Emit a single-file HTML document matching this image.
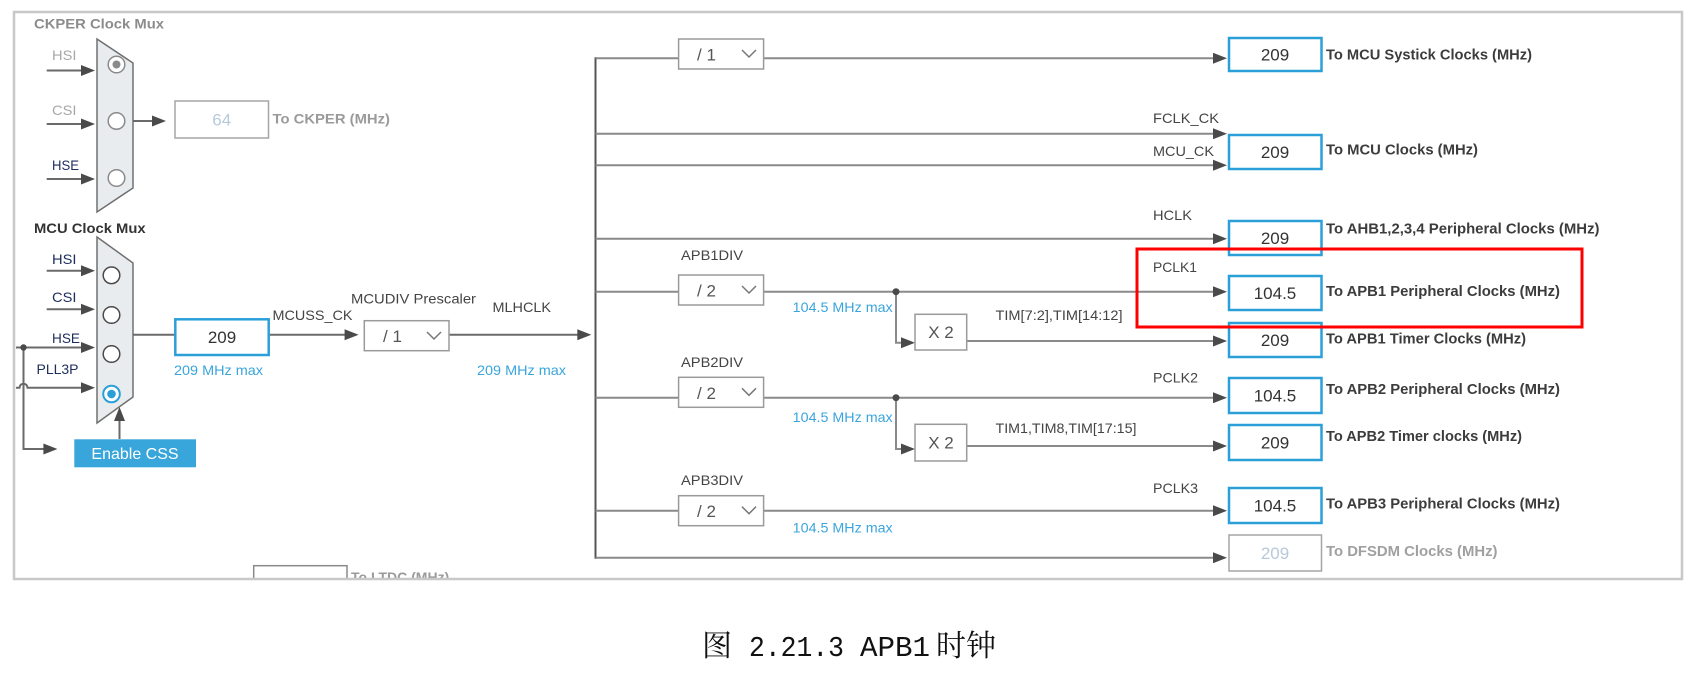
<!DOCTYPE html>
<html>
<head>
<meta charset="utf-8">
<style>
  html,body{margin:0;padding:0;background:#fff;}
  body{width:1692px;height:675px;overflow:hidden;}
  svg{display:block;}
</style>
</head>
<body>
<svg width="1692" height="675" viewBox="0 0 1692 675" xmlns="http://www.w3.org/2000/svg" font-family="'Liberation Sans', Arial, sans-serif">
  <defs>
    <clipPath id="c"><rect x="15" y="13" width="1666" height="565"/></clipPath>
  </defs>
  <rect x="0" y="0" width="1692" height="675" fill="#ffffff"/>

  <g clip-path="url(#c)">
    <!-- ============ CKPER MUX ============ -->
    <text x="34" y="28.5" font-size="14" font-weight="bold" fill="#8c8c8c" textLength="130" lengthAdjust="spacingAndGlyphs">CKPER Clock Mux</text>
    <polygon points="97,39 133,63 133,188 97,212" fill="#e9ecef" stroke="#707070" stroke-width="1.5"/>
    <circle cx="116.5" cy="64.5" r="8.3" fill="#fff" stroke="#8a8a8a" stroke-width="1.5"/>
    <circle cx="116.5" cy="64.5" r="4" fill="#8a8a8a"/>
    <circle cx="116.5" cy="121" r="8.3" fill="#fff" stroke="#8a8a8a" stroke-width="1.5"/>
    <circle cx="116.5" cy="178" r="8.3" fill="#fff" stroke="#8a8a8a" stroke-width="1.5"/>

    <g stroke="#6a6a6a" stroke-width="2" fill="none">
      <path d="M46.7 70.5 H83"/>
      <path d="M46.7 124 H83"/>
      <path d="M46.7 179 H83"/>
      <path d="M133 121 H154"/>
    </g>
    <g fill="#4a4a4a">
      <polygon points="81,65 95,70.5 81,76"/>
      <polygon points="81,118.5 95,124 81,129.5"/>
      <polygon points="81,173.5 95,179 81,184.5"/>
      <polygon points="152,115.5 166,121 152,126.5"/>
    </g>
    <text x="52" y="60" font-size="14" fill="#a8a8a8" textLength="24.5" lengthAdjust="spacingAndGlyphs">HSI</text>
    <text x="52" y="115" font-size="14" fill="#a8a8a8" textLength="24.5" lengthAdjust="spacingAndGlyphs">CSI</text>
    <text x="52" y="170" font-size="14" fill="#1d2d5c" textLength="27" lengthAdjust="spacingAndGlyphs">HSE</text>

    <rect x="175" y="101" width="93.5" height="37" fill="#fff" stroke="#a5a5a5" stroke-width="1.5"/>
    <text x="221.7" y="125.5" font-size="17" fill="#b7c9dc" text-anchor="middle">64</text>
    <text x="272.5" y="123.5" font-size="14" font-weight="bold" fill="#9a9a9a" textLength="117.5" lengthAdjust="spacingAndGlyphs">To CKPER (MHz)</text>

    <!-- ============ MCU MUX ============ -->
    <text x="34" y="233" font-size="14" font-weight="bold" fill="#333333" textLength="111.6" lengthAdjust="spacingAndGlyphs">MCU Clock Mux</text>
    <polygon points="97,237 133,263 133,397 97,423" fill="#e9ecef" stroke="#707070" stroke-width="1.5"/>
    <circle cx="111.5" cy="275.3" r="8.3" fill="#fff" stroke="#4a4a4a" stroke-width="1.5"/>
    <circle cx="111.5" cy="315" r="8.3" fill="#fff" stroke="#4a4a4a" stroke-width="1.5"/>
    <circle cx="111.5" cy="354" r="8.3" fill="#fff" stroke="#4a4a4a" stroke-width="1.5"/>
    <circle cx="111.5" cy="394" r="8.3" fill="#fff" stroke="#2b9fd8" stroke-width="2"/>
    <circle cx="111.5" cy="394" r="4.3" fill="#2b9fd8"/>

    <g stroke="#6a6a6a" stroke-width="2" fill="none">
      <path d="M46.7 270.7 H83"/>
      <path d="M46.7 309.3 H83"/>
      <path d="M16 347.5 H83"/>
      <path d="M16 387.7 H19.5 A4 4 0 0 1 27.5 387.7 H83"/>
      <path d="M23.5 347.5 V449 H45"/>
      <path d="M119.5 439 V419"/>
      <path d="M133 334.7 H175.3"/>
      <path d="M268.7 334.7 H346"/>
      <path d="M449 334.7 H579"/>
    </g>
    <circle cx="23.5" cy="347.5" r="3.2" fill="#4a4a4a"/>
    <g fill="#4a4a4a">
      <polygon points="81,265.2 95,270.7 81,276.2"/>
      <polygon points="81,303.8 95,309.3 81,314.8"/>
      <polygon points="81,342 95,347.5 81,353"/>
      <polygon points="81,382.2 95,387.7 81,393.2"/>
      <polygon points="43.4,443.5 57.4,449 43.4,454.5"/>
      <polygon points="114,421 119.5,407 125,421"/>
      <polygon points="344.6,329.2 358.6,334.7 344.6,340.2"/>
      <polygon points="577.3,329.2 591.3,334.7 577.3,340.2"/>
    </g>
    <text x="52" y="264" font-size="14" fill="#1d2d5c" textLength="24.5" lengthAdjust="spacingAndGlyphs">HSI</text>
    <text x="52" y="302" font-size="14" fill="#1d2d5c" textLength="24.5" lengthAdjust="spacingAndGlyphs">CSI</text>
    <text x="52" y="343" font-size="14" fill="#1d2d5c" textLength="28" lengthAdjust="spacingAndGlyphs">HSE</text>
    <text x="36.5" y="374" font-size="14" fill="#1d2d5c" textLength="42" lengthAdjust="spacingAndGlyphs">PLL3P</text>

    <rect x="74.3" y="439.3" width="121.7" height="28" fill="#38a6db"/>
    <text x="135" y="459" font-size="16" fill="#ffffff" text-anchor="middle">Enable CSS</text>

    <rect x="175.3" y="319.3" width="93.4" height="35.7" fill="#fff" stroke="#2b9fd8" stroke-width="2.5"/>
    <text x="222" y="343" font-size="17" fill="#333" text-anchor="middle">209</text>
    <text x="174" y="375" font-size="14" fill="#3aa5dc" textLength="89" lengthAdjust="spacingAndGlyphs">209 MHz max</text>
    <text x="272.5" y="320" font-size="14" fill="#444" textLength="80" lengthAdjust="spacingAndGlyphs">MCUSS_CK</text>
    <text x="351" y="303.5" font-size="14" fill="#444" textLength="125" lengthAdjust="spacingAndGlyphs">MCUDIV Prescaler</text>

    <rect x="364.3" y="320.7" width="84.7" height="30" fill="#fff" stroke="#9a9a9a" stroke-width="1.5"/>
    <text x="383" y="342" font-size="17" fill="#555">/ 1</text>
    <polyline points="427,332 434,339 441,332" fill="none" stroke="#777" stroke-width="1.5"/>

    <text x="492.5" y="312" font-size="14" fill="#444" textLength="58.5" lengthAdjust="spacingAndGlyphs">MLHCLK</text>
    <text x="477" y="375" font-size="14" fill="#3aa5dc" textLength="89" lengthAdjust="spacingAndGlyphs">209 MHz max</text>

    <!-- LTDC clipped -->
    <rect x="253.7" y="565.7" width="93.3" height="40" fill="#fff" stroke="#8a8a8a" stroke-width="1.5"/>
    <text x="351" y="582" font-size="14" font-weight="bold" fill="#9a9a9a">To LTDC (MHz)</text>

    <!-- ============ BUS & BRANCHES ============ -->
    <path d="M595.5 57.3 V558.7" stroke="#555" stroke-width="2" fill="none"/>
    <g stroke="#8a8a8a" stroke-width="2" fill="none">
      <path d="M595.5 58.3 H678.6"/>
      <path d="M763.6 58.3 H1215"/>
      <path d="M595.5 133.7 H1215"/>
      <path d="M595.5 165.3 H1215"/>
      <path d="M595.5 238.7 H1215"/>
      <path d="M595.5 291.7 H678.6"/>
      <path d="M763.6 291.7 H1215"/>
      <path d="M896 291.7 V342.7 H903"/>
      <path d="M966.7 341 H1215"/>
      <path d="M595.5 397.7 H678.6"/>
      <path d="M763.6 397.7 H1215"/>
      <path d="M896 397.7 V449 H903"/>
      <path d="M966.7 446 H1215"/>
      <path d="M595.5 510.7 H678.6"/>
      <path d="M763.6 510.7 H1215"/>
      <path d="M595.5 557.7 H1215"/>
    </g>
    <circle cx="896" cy="291.7" r="3.5" fill="#4a4a4a"/>
    <circle cx="896" cy="397.7" r="3.5" fill="#4a4a4a"/>
    <g fill="#4a4a4a">
      <polygon points="1213,52.8 1227,58.3 1213,63.8"/>
      <polygon points="1213,128.2 1227,133.7 1213,139.2"/>
      <polygon points="1213,159.8 1227,165.3 1213,170.8"/>
      <polygon points="1213,233.2 1227,238.7 1213,244.2"/>
      <polygon points="1213,286.2 1227,291.7 1213,297.2"/>
      <polygon points="1213,335.5 1227,341 1213,346.5"/>
      <polygon points="1213,392.2 1227,397.7 1213,403.2"/>
      <polygon points="1213,440.5 1227,446 1213,451.5"/>
      <polygon points="1213,505.2 1227,510.7 1213,516.2"/>
      <polygon points="1213,552.2 1227,557.7 1213,563.2"/>
      <polygon points="901,337.2 915,342.7 901,348.2"/>
      <polygon points="901,443.5 915,449 901,454.5"/>
    </g>

    <!-- dropdowns -->
    <g>
      <rect x="678.6" y="39" width="85" height="30" fill="#fff" stroke="#9a9a9a" stroke-width="1.5"/>
      <text x="697" y="60.5" font-size="17" fill="#555">/ 1</text>
      <polyline points="742,50 749,57 756,50" fill="none" stroke="#777" stroke-width="1.5"/>

      <rect x="678.6" y="275" width="85" height="30" fill="#fff" stroke="#9a9a9a" stroke-width="1.5"/>
      <text x="697" y="296.5" font-size="17" fill="#555">/ 2</text>
      <polyline points="742,286 749,293 756,286" fill="none" stroke="#777" stroke-width="1.5"/>

      <rect x="678.6" y="377.3" width="85" height="30" fill="#fff" stroke="#9a9a9a" stroke-width="1.5"/>
      <text x="697" y="398.8" font-size="17" fill="#555">/ 2</text>
      <polyline points="742,388.3 749,395.3 756,388.3" fill="none" stroke="#777" stroke-width="1.5"/>

      <rect x="678.6" y="495.7" width="85" height="30" fill="#fff" stroke="#9a9a9a" stroke-width="1.5"/>
      <text x="697" y="517.2" font-size="17" fill="#555">/ 2</text>
      <polyline points="742,506.7 749,513.7 756,506.7" fill="none" stroke="#777" stroke-width="1.5"/>
    </g>

    <text x="681" y="260" font-size="14" fill="#444" textLength="62" lengthAdjust="spacingAndGlyphs">APB1DIV</text>
    <text x="681" y="367" font-size="14" fill="#444" textLength="62" lengthAdjust="spacingAndGlyphs">APB2DIV</text>
    <text x="681" y="485" font-size="14" fill="#444" textLength="62" lengthAdjust="spacingAndGlyphs">APB3DIV</text>
    <text x="792.7" y="312" font-size="14" fill="#3aa5dc" textLength="100" lengthAdjust="spacingAndGlyphs">104.5 MHz max</text>
    <text x="792.7" y="422" font-size="14" fill="#3aa5dc" textLength="100" lengthAdjust="spacingAndGlyphs">104.5 MHz max</text>
    <text x="792.7" y="532.5" font-size="14" fill="#3aa5dc" textLength="100" lengthAdjust="spacingAndGlyphs">104.5 MHz max</text>

    <!-- X2 boxes -->
    <rect x="915" y="314.3" width="51.7" height="35.7" fill="#fff" stroke="#9a9a9a" stroke-width="1.5"/>
    <text x="941" y="338" font-size="17" fill="#555" text-anchor="middle">X 2</text>
    <rect x="915" y="424.3" width="51.7" height="36.7" fill="#fff" stroke="#9a9a9a" stroke-width="1.5"/>
    <text x="941" y="448.5" font-size="17" fill="#555" text-anchor="middle">X 2</text>
    <text x="995.5" y="320" font-size="14" fill="#444" textLength="127" lengthAdjust="spacingAndGlyphs">TIM[7:2],TIM[14:12]</text>
    <text x="995.5" y="433" font-size="14" fill="#444" textLength="141" lengthAdjust="spacingAndGlyphs">TIM1,TIM8,TIM[17:15]</text>

    <!-- signal labels -->
    <text x="1153" y="123" font-size="14" fill="#444" textLength="66" lengthAdjust="spacingAndGlyphs">FCLK_CK</text>
    <text x="1153" y="156" font-size="14" fill="#444" textLength="61" lengthAdjust="spacingAndGlyphs">MCU_CK</text>
    <text x="1153" y="220" font-size="14" fill="#444" textLength="39" lengthAdjust="spacingAndGlyphs">HCLK</text>
    <text x="1153" y="272" font-size="14" fill="#444" textLength="44" lengthAdjust="spacingAndGlyphs">PCLK1</text>
    <text x="1153" y="382.5" font-size="14" fill="#444" textLength="45" lengthAdjust="spacingAndGlyphs">PCLK2</text>
    <text x="1153" y="493" font-size="14" fill="#444" textLength="45" lengthAdjust="spacingAndGlyphs">PCLK3</text>

    <!-- output boxes -->
    <g fill="#fff" stroke="#2b9fd8" stroke-width="2.5">
      <rect x="1229" y="38" width="92.5" height="33"/>
      <rect x="1229" y="135" width="92.5" height="34"/>
      <rect x="1229" y="221" width="92.5" height="34"/>
      <rect x="1229" y="276" width="92.5" height="34"/>
      <rect x="1229" y="323" width="92.5" height="34"/>
      <rect x="1229" y="378" width="92.5" height="35"/>
      <rect x="1229" y="425" width="92.5" height="35"/>
      <rect x="1229" y="488" width="92.5" height="35"/>
    </g>
    <rect x="1229" y="535" width="92.5" height="36" fill="#fff" stroke="#a5a5a5" stroke-width="1.5"/>
    <g font-size="17" fill="#333" text-anchor="middle">
      <text x="1275" y="60.5">209</text>
      <text x="1275" y="158">209</text>
      <text x="1275" y="244">209</text>
      <text x="1275" y="299">104.5</text>
      <text x="1275" y="346">209</text>
      <text x="1275" y="401.5">104.5</text>
      <text x="1275" y="448.5">209</text>
      <text x="1275" y="511.5">104.5</text>
    </g>
    <text x="1275" y="559" font-size="17" fill="#b7c9dc" text-anchor="middle">209</text>

    <g font-size="14.5" font-weight="bold" fill="#3c3c3c">
      <text x="1326" y="59.5" textLength="206" lengthAdjust="spacingAndGlyphs">To MCU Systick Clocks (MHz)</text>
      <text x="1326" y="154.5" textLength="152" lengthAdjust="spacingAndGlyphs">To MCU Clocks (MHz)</text>
      <text x="1326" y="233.5" textLength="273.5" lengthAdjust="spacingAndGlyphs">To AHB1,2,3,4 Peripheral Clocks (MHz)</text>
      <text x="1326" y="296" textLength="234" lengthAdjust="spacingAndGlyphs">To APB1 Peripheral Clocks (MHz)</text>
      <text x="1326" y="343.5" textLength="200" lengthAdjust="spacingAndGlyphs">To APB1 Timer Clocks (MHz)</text>
      <text x="1326" y="394" textLength="234" lengthAdjust="spacingAndGlyphs">To APB2 Peripheral Clocks (MHz)</text>
      <text x="1326" y="441" textLength="196" lengthAdjust="spacingAndGlyphs">To APB2 Timer clocks (MHz)</text>
      <text x="1326" y="508.5" textLength="234" lengthAdjust="spacingAndGlyphs">To APB3 Peripheral Clocks (MHz)</text>
    </g>
    <text x="1326" y="556" font-size="14.5" font-weight="bold" fill="#a0a0a0" textLength="171.5" lengthAdjust="spacingAndGlyphs">To DFSDM Clocks (MHz)</text>
  </g>

  <!-- frame -->
  <rect x="14" y="12" width="1668" height="567" fill="none" stroke="#c8c8c8" stroke-width="2.5"/>

  <!-- red highlight -->
  <rect x="1137" y="249" width="445" height="78" fill="none" stroke="#ff0000" stroke-width="3"/>

  <!-- caption -->
  <text x="702" y="656" font-size="30" fill="#111" font-family="'Noto Serif CJK SC', 'Noto Sans CJK SC', serif">图</text>
  <text x="749" y="656" font-size="29" fill="#111" font-family="'Liberation Mono', monospace" textLength="95" lengthAdjust="spacingAndGlyphs">2.21.3</text>
  <text x="860" y="656" font-size="29" fill="#111" font-family="'Liberation Mono', monospace" textLength="70" lengthAdjust="spacingAndGlyphs">APB1</text>
  <text x="936" y="656" font-size="30" fill="#111" font-family="'Liberation Serif', 'Noto Serif CJK SC', serif">时钟</text>
</svg>
</body>
</html>
